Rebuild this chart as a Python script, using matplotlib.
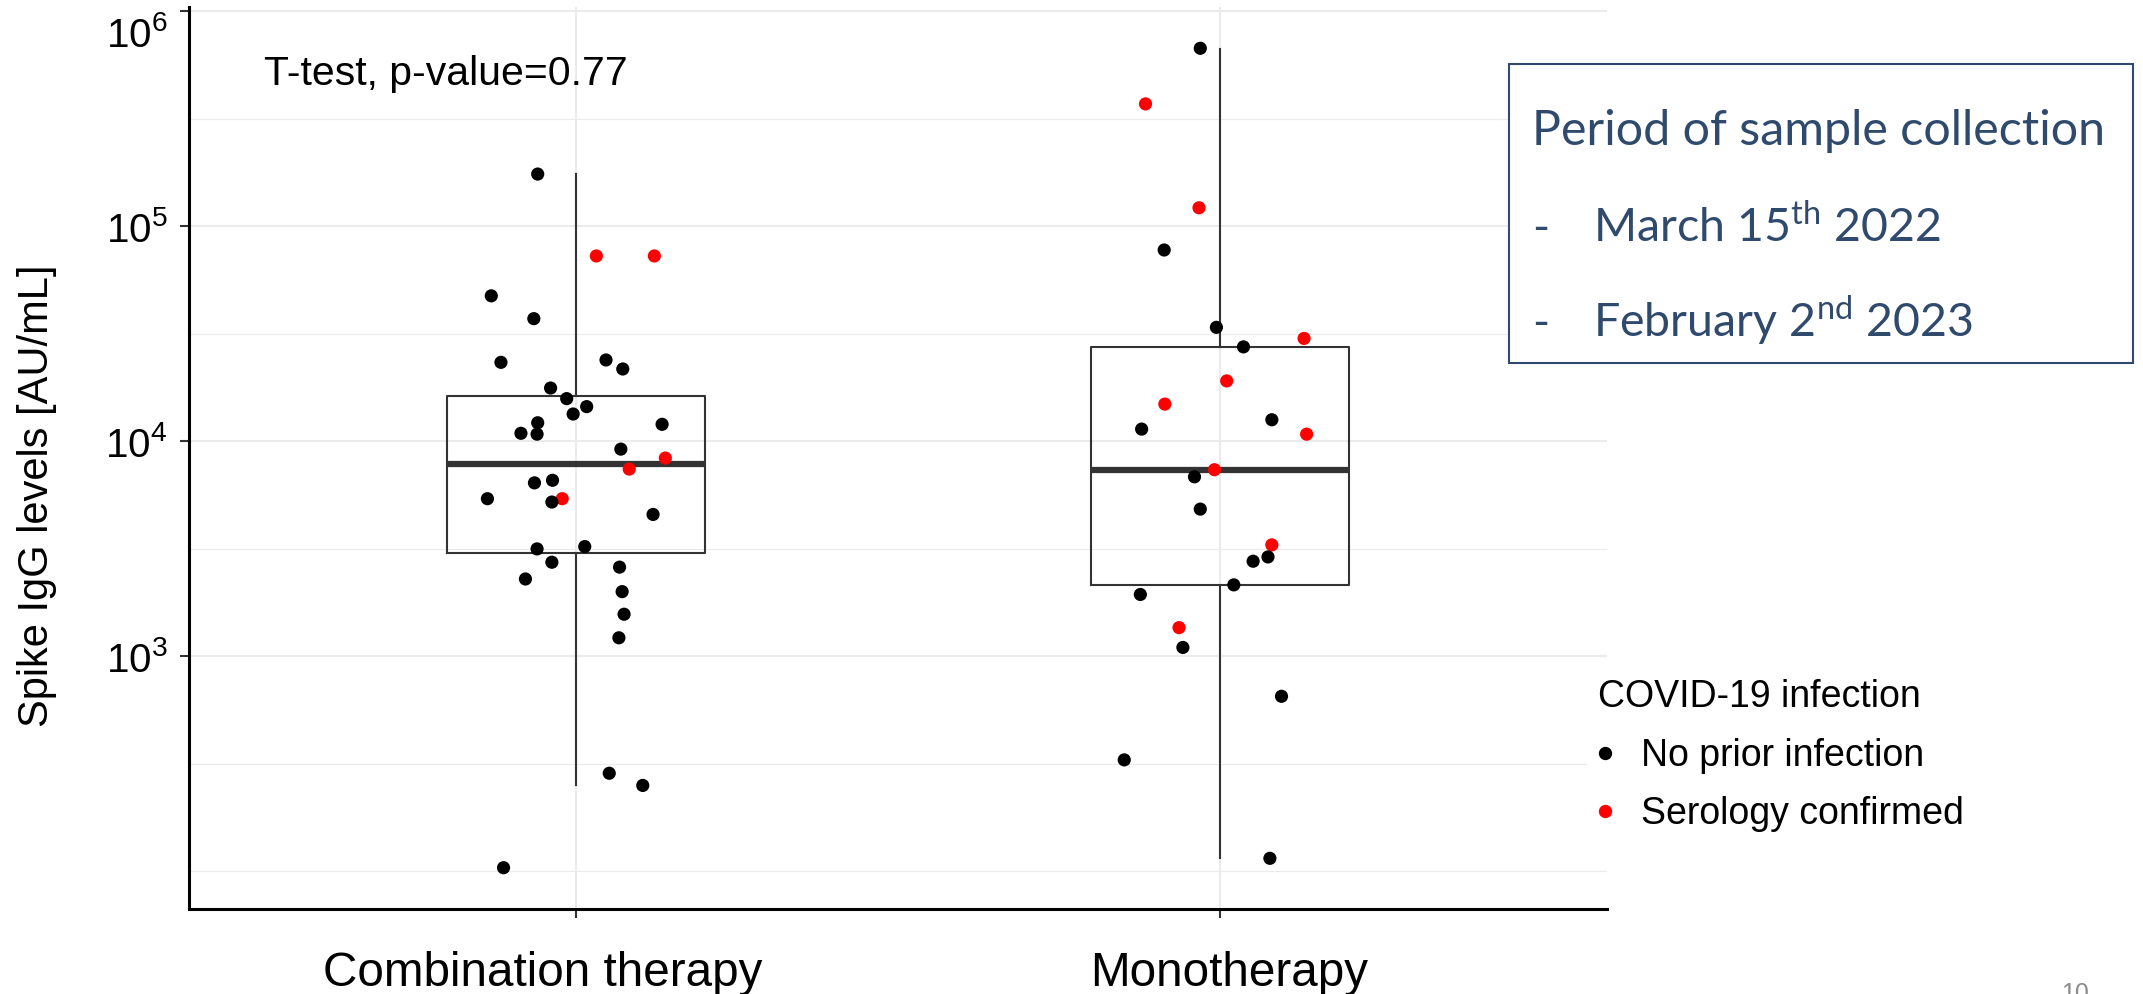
import matplotlib
matplotlib.use("Agg")
import matplotlib.pyplot as plt
import matplotlib.transforms as mtransforms
from matplotlib.lines import Line2D
from matplotlib.patches import Rectangle
from matplotlib.ticker import FixedLocator, LogFormatterSciNotation, NullFormatter

plt.rcParams["font.family"] = ["Liberation Sans", "DejaVu Sans"]

W, H, DPI = 2143, 994, 100

GROUPS = ["Combination therapy", "Monotherapy"]

# Spike IgG (AU/mL) per patient, horizontal jitter, 1 = serology confirmed infection
COMBO_IGG = [175000, 72800, 72800, 47500, 37200, 23300, 23900, 21700, 17700, 15800,
             14500, 13400, 12200, 10900, 10800, 12000, 9200, 8360, 7430, 6590,
             6410, 5410, 5410, 5220, 4570, 3160, 3240, 2740, 2290, 2600,
             2000, 1570, 1220, 286, 251, 104]
COMBO_JIT = [-0.059, 0.032, 0.122, -0.131, -0.065, -0.116, 0.047, 0.073, -0.039, -0.014,
             0.017, -0.004, -0.059, -0.085, -0.060, 0.134, 0.070, 0.139, 0.083, -0.036,
             -0.064, -0.137, -0.021, -0.037, 0.120, -0.060, 0.014, -0.037, -0.078, 0.068,
             0.072, 0.075, 0.067, 0.052, 0.104, -0.112]
COMBO_SERO = [0, 1, 1, 0, 0, 0, 0, 0, 0, 0,
              0, 0, 0, 0, 0, 0, 0, 1, 1, 0,
              0, 0, 1, 0, 0, 0, 0, 0, 0, 0,
              0, 0, 0, 0, 0, 0]

MONO_IGG = [673000, 371000, 122000, 77600, 33900, 27500, 30100, 19100, 14900, 11400,
            12600, 10800, 7380, 6840, 4840, 3300, 2900, 2770, 2150, 1940,
            1360, 1100, 652, 330, 115]
MONO_JIT = [-0.031, -0.116, -0.033, -0.087, -0.006, 0.036, 0.130, 0.010, -0.086, -0.122,
            0.080, 0.134, -0.009, -0.040, -0.031, 0.080, 0.074, 0.051, 0.021, -0.124,
            -0.064, -0.058, 0.095, -0.149, 0.077]
MONO_SERO = [0, 1, 1, 0, 0, 0, 1, 1, 1, 0,
             0, 1, 1, 0, 0, 1, 0, 0, 0, 0,
             1, 0, 0, 0, 0]

# box summaries as drawn in the figure (AU/mL)
BOX_WLO = [252, 115]
BOX_Q1 = [3035, 2150]
BOX_MED = [7830, 7380]
BOX_Q3 = [16300, 27500]
BOX_WHI = [174600, 665000]

P_TEXT = "T-test, p-value=0.77"
LEGEND_TITLE = "COVID-19 infection"
LEGEND_LABELS = ["No prior infection", "Serology confirmed"]
POINT_COLORS = ["#000000", "#FF0000"]

BOX_TITLE = "Period of sample collection"
BOX_LINES = [r"March 15$^{\mathdefault{th}}$ 2022", r"February 2$^{\mathdefault{nd}}$ 2023"]
SLATE = "#2F4A6D"

# the category labels sit a little off their ticks in the original slide (pixels)
XLABEL_SHIFT = [-33, 9]


def fx(px):
    return px / W


def fy(py):
    return 1 - py / H


def pt(px):
    return px * 72 / DPI


fig = plt.figure(figsize=(W / DPI, H / DPI), dpi=DPI)
ax = fig.add_axes([fx(189), fy(909), fx(1607) - fx(189), fy(7) - fy(909)])

ax.set_yscale("log")
ax.set_xlim(0.4, 2.6)
ax.set_ylim(10 ** 1.825, 10 ** 6.020)

# grid: majors at decades, minors at half decades (ggplot style)
ax.yaxis.set_major_locator(FixedLocator([1e3, 1e4, 1e5, 1e6]))
ax.yaxis.set_major_formatter(LogFormatterSciNotation())
ax.yaxis.set_minor_locator(FixedLocator([10 ** 2, 10 ** 2.5, 10 ** 3.5, 10 ** 4.5, 10 ** 5.5]))
ax.yaxis.set_minor_formatter(NullFormatter())
ax.set_xticks([1, 2])
ax.set_xticklabels([])
ax.grid(True, which="major", color="#EBEBEB", linewidth=1.5, zorder=0)
ax.grid(True, which="minor", axis="y", color="#EBEBEB", linewidth=0.8, zorder=0)
ax.set_axisbelow(True)

for side in ["top", "right"]:
    ax.spines[side].set_visible(False)
for side in ["left", "bottom"]:
    ax.spines[side].set_linewidth(2.2)
    ax.spines[side].set_color("black")

ax.tick_params(axis="both", which="major", length=6.5, width=1.5, color="#333333")
ax.tick_params(axis="y", which="minor", length=0)
ax.tick_params(axis="y", labelsize=29, pad=9, labelcolor="black")

for pos, name, shift in zip([1, 2], GROUPS, XLABEL_SHIFT):
    ax.annotate(name, xy=(pos, 0), xycoords=("data", "axes fraction"),
                xytext=(pt(shift), pt(-42)), textcoords="offset points",
                ha="center", va="top", fontsize=34.3, annotation_clip=False)

stats = []
for i, name in enumerate(GROUPS):
    stats.append({"label": name, "whislo": BOX_WLO[i], "q1": BOX_Q1[i], "med": BOX_MED[i],
                  "q3": BOX_Q3[i], "whishi": BOX_WHI[i], "fliers": []})
line_col = "#333333"
ax.bxp(stats, positions=[1, 2], widths=0.4, showcaps=False, showfliers=False,
       manage_ticks=False,
       boxprops=dict(color=line_col, linewidth=1.5),
       whiskerprops=dict(color=line_col, linewidth=1.5),
       medianprops=dict(color=line_col, linewidth=4.5, solid_capstyle="butt"),
       zorder=2)

for pos, vals, jit, sero in [(1, COMBO_IGG, COMBO_JIT, COMBO_SERO),
                             (2, MONO_IGG, MONO_JIT, MONO_SERO)]:
    xs = [pos + j for j in jit]
    cols = [POINT_COLORS[s] for s in sero]
    ax.scatter(xs, vals, s=90, c=cols, linewidths=0, zorder=3)

ax.text(0.517, 10 ** 5.657, P_TEXT, fontsize=29.5, ha="left", va="baseline")

fig.text(fx(37), fy(496), "Spike IgG levels [AU/mL]", rotation=90, fontsize=30,
         ha="center", va="center")

handles = [Line2D([], [], marker="o", linestyle="none", markersize=9.6,
                  markerfacecolor=c, markeredgewidth=0, label=lab)
           for c, lab in zip(POINT_COLORS, LEGEND_LABELS)]
fig.legend(handles=handles, title=LEGEND_TITLE, loc="upper left",
           bbox_to_anchor=(fx(1587), fy(668)), borderaxespad=0, borderpad=0.3,
           frameon=True, facecolor="white", edgecolor="none", fancybox=False, framealpha=1,
           fontsize=27, title_fontsize=27, handlelength=0.37, handletextpad=0.77,
           labelspacing=0.6, alignment="left")

# sample collection box
fig.add_artist(Rectangle((fx(1509), fy(363)), fx(2133) - fx(1509), fy(64) - fy(363),
                         transform=fig.transFigure, facecolor="white", edgecolor=SLATE,
                         linewidth=1.5))
fig.text(fx(1532), fy(145), BOX_TITLE, fontsize=34.8, family="Lato", color=SLATE,
         ha="left", va="baseline")
for line, base in zip(BOX_LINES, [242, 337]):
    fig.text(fx(1532), fy(base), "-", fontsize=33, family="Lato", color=SLATE,
             ha="left", va="baseline")
    fig.text(fx(1593), fy(base), line, fontsize=33.5, family="Lato", color=SLATE,
             ha="left", va="baseline")

fig.text(fx(2061), fy(982), "10", fontsize=18, color="#8C8C8C", ha="left", va="top")

# the top decade label is nudged down in the original so it is not cut off
fig.canvas.draw()
top_label = ax.get_yticklabels()[-1]
top_label.set_transform(top_label.get_transform()
                        + mtransforms.ScaledTranslation(0, -20 / DPI, fig.dpi_scale_trans))

fig.savefig("out.png", dpi=DPI)
